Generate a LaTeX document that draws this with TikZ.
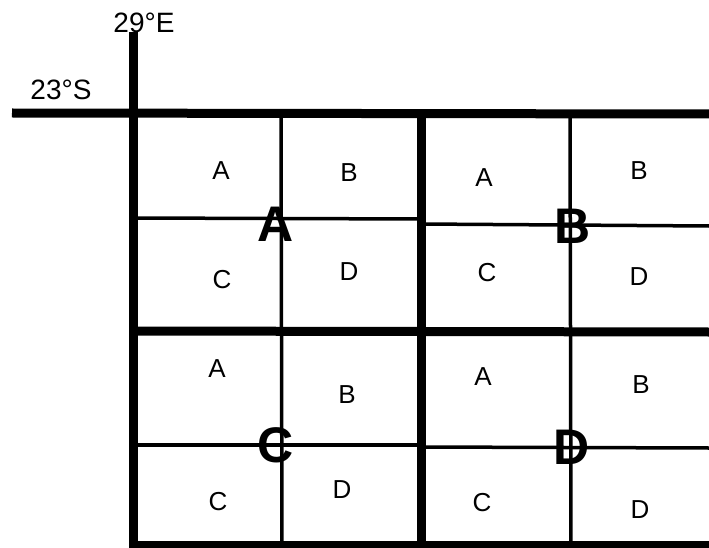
\documentclass[tikz,border=0pt]{standalone}
\usepackage{fontspec}
\setmainfont{Liberation Sans}
\usetikzlibrary{positioning}

\begin{document}
\begin{tikzpicture}[x=1pt,y=-1pt,
    major/.style={line width=9pt},
    minor/.style={line width=3.5pt},
    cell/.style={inner sep=0pt,font=\fontsize{26}{26}\selectfont},
    block/.style={inner sep=0pt,font=\fontsize{50}{50}\selectfont\bfseries},
    coord/.style={inner sep=0pt,font=\fontsize{28}{28}\selectfont}]
  \useasboundingbox (0,0) rectangle (709,548);
  % quarter-degree lines
  \draw[minor] (133,218) -- (421,219);
  \draw[minor] (421,224) -- (709,226);
  \draw[minor] (133,445) -- (421,445);
  \draw[minor] (421,447) -- (709,448);
  \draw[minor] (281,113) -- (282,545);
  \draw[minor] (570,113) -- (571,545);
  % degree lines
  \draw[major] (12,113) -- (709,114);
  \draw[major] (133,32) -- (133,548);
  \draw[major] (421,113) -- (421,548);
  \draw[major] (133,331) -- (709,332);
  \draw[major] (133,545) -- (709,545);
  \node[coord] (lon) at (144,23) {29°E};
  \node[coord] (lat) at (61,90) {23°S};
  % half-degree blocks
  \foreach \n/\x/\y in {A/276/224,B/573/226,C/276/445,D/572/447}
    \node[block] (blk\n) at (\x,\y) {\n};
  % quarter-degree squares
  \foreach \n/\t/\x/\y in {aA/A/221/171,aB/B/349/173,aC/C/222/280,aD/D/349/272,
      bA/A/484/178,bB/B/639/171,bC/C/487/273,bD/D/639/277,
      cA/A/217/369,cB/B/347/395,cC/C/218/502,cD/D/342/490,
      dA/A/483/377,dB/B/641/385,dC/C/482/503,dD/D/640/510}
    \node[cell] (sq\n) at (\x,\y) {\t};
\end{tikzpicture}
\end{document}
